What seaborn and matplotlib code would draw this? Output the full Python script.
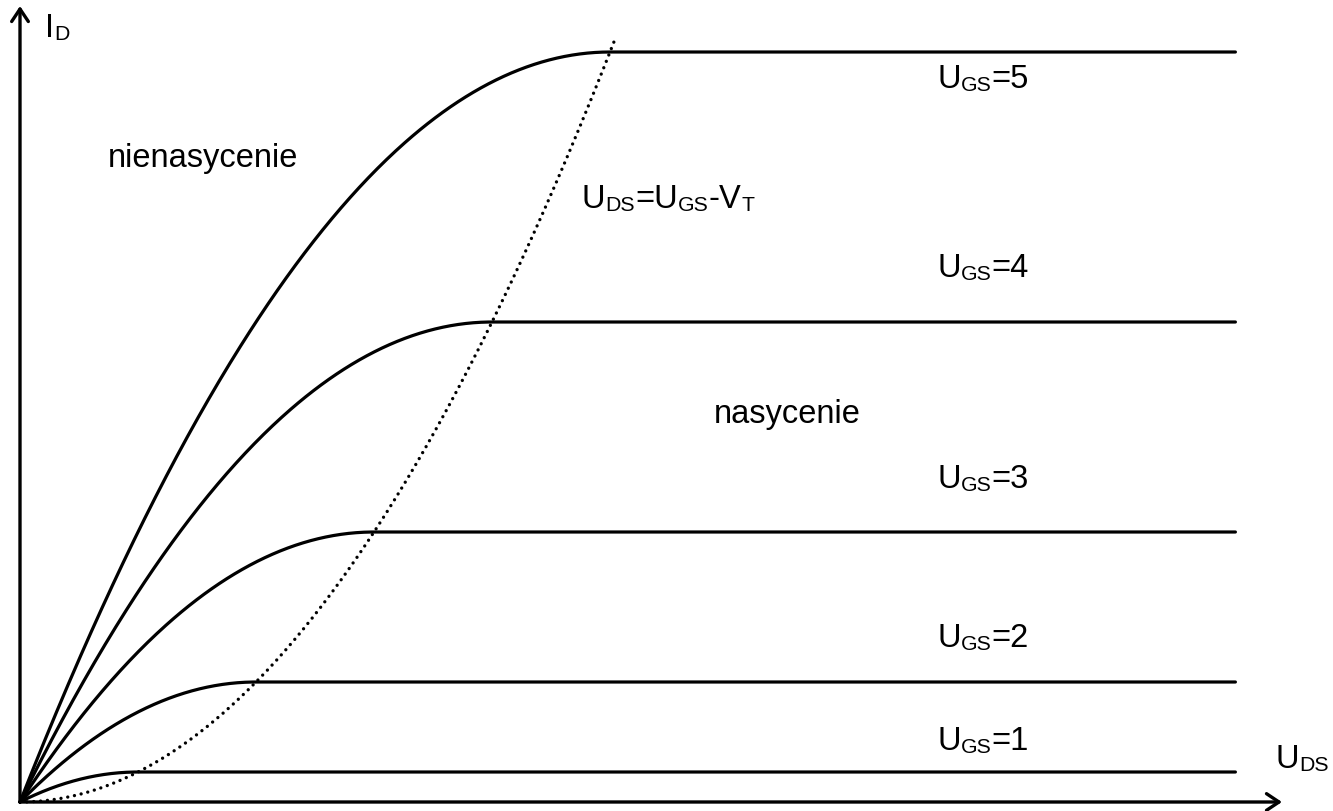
import numpy as np
import pandas as pd
import matplotlib
matplotlib.use("Agg")
import matplotlib.pyplot as plt
import seaborn as sns

# Gate-source voltages of the plotted characteristics
ugs_levels = [1, 2, 3, 4, 5]
vt = 0.0          # threshold voltage (curves are drawn versus overdrive)
k = 1.0           # transconductance factor
vds_end = 10.3    # right end of the characteristics
vds_boundary_end = 5.05  # right end of the saturation boundary curve

# Text labels, as (text, is_subscript) pieces
ugs_labels = [[("U", False), ("GS", True), ("=%d" % u, False)] for u in ugs_levels]
boundary_label = [("U", False), ("DS", True), ("=U", False), ("GS", True),
                  ("-V", False), ("T", True)]
x_label = [("U", False), ("DS", True)]
y_label = [("I", False), ("D", True)]
region_labels = ["nienasycenie", "nasycenie"]


def drain_current(vds, ugs):
    vov = ugs - vt
    v = np.minimum(vds, vov)
    return k * (2.0 * vov * v - v ** 2)


sns.set_style("white")
plt.rcParams["font.family"] = ["Liberation Sans", "DejaVu Sans"]

W, H = 1333, 812
fig = plt.figure(figsize=(W / 100, H / 100), dpi=100)
ax = fig.add_axes([0, 0, 1, 1])

# pixel layout of the drawing area: origin at (20, 803), 118 px per volt, 30 px per current unit
x0_px, y0_px, sx, sy = 20, 803, 118, 30
ax.set_xlim(-x0_px / sx, (W - x0_px) / sx)
ax.set_ylim((y0_px - H) / sy, y0_px / sy)
ax.set_axis_off()

frames = []
for u in ugs_levels:
    vds = np.union1d(np.linspace(0, vds_end, 800), [u - vt])
    frames.append(pd.DataFrame({"vds": vds, "id": drain_current(vds, u), "ugs": u}))
df = pd.concat(frames, ignore_index=True)

sns.lineplot(data=df, x="vds", y="id", hue="ugs", palette=["black"] * len(ugs_levels),
             legend=False, estimator=None, lw=2.3, ax=ax)

# saturation boundary U_DS = U_GS - V_T
vb = np.linspace(0, vds_boundary_end, 400)
sns.lineplot(x=vb, y=k * vb ** 2, color="black", lw=2.4, ax=ax, estimator=None,
             linestyle=(0, (0.01, 2.05)))
ax.lines[-1].set_dash_capstyle("round")

# axes with arrow heads
arrow = dict(arrowstyle="->,head_length=0.45,head_width=0.3", lw=2.4, color="black",
             shrinkA=0, shrinkB=0, mutation_scale=20)
ax.annotate("", xy=((1282 - x0_px) / sx, 0), xytext=(0, 0), arrowprops=arrow,
            annotation_clip=False)
ax.annotate("", xy=(0, (y0_px - 7) / sy), xytext=(0, 0), arrowprops=arrow,
            annotation_clip=False)

fs = 23.5
sub_scale = 0.65
sub_drop = 3  # px below the main baseline
renderer = fig.canvas.get_renderer()


def put(px, py, parts, align="left"):
    """Write a label from pieces with the baseline at pixel row py.

    align='left' starts the label at px, align='right' ends it at px.
    """
    if isinstance(parts, str):
        parts = [(parts, False)]
    texts, x = [], px
    for s, sub in parts:
        size = fs * sub_scale if sub else fs
        y = py + (sub_drop if sub else 0)
        t = fig.text(x / W, 1 - y / H, s, fontsize=size, ha="left", va="baseline",
                     color="black")
        x += t.get_window_extent(renderer).width
        texts.append(t)
    if align == "right":
        shift = (px - x) / W
        for t in texts:
            xx, yy = t.get_position()
            t.set_position((xx + shift, yy))


put(45, 37, y_label)
put(1329, 768, x_label, align="right")
for lab, base in zip(ugs_labels, [750, 647, 488, 277, 88]):
    put(937, base, lab)
put(582, 208, boundary_label)
put(108, 167, region_labels[0])
put(714, 423, region_labels[1])

fig.savefig("out.png", dpi=100, facecolor="white")
